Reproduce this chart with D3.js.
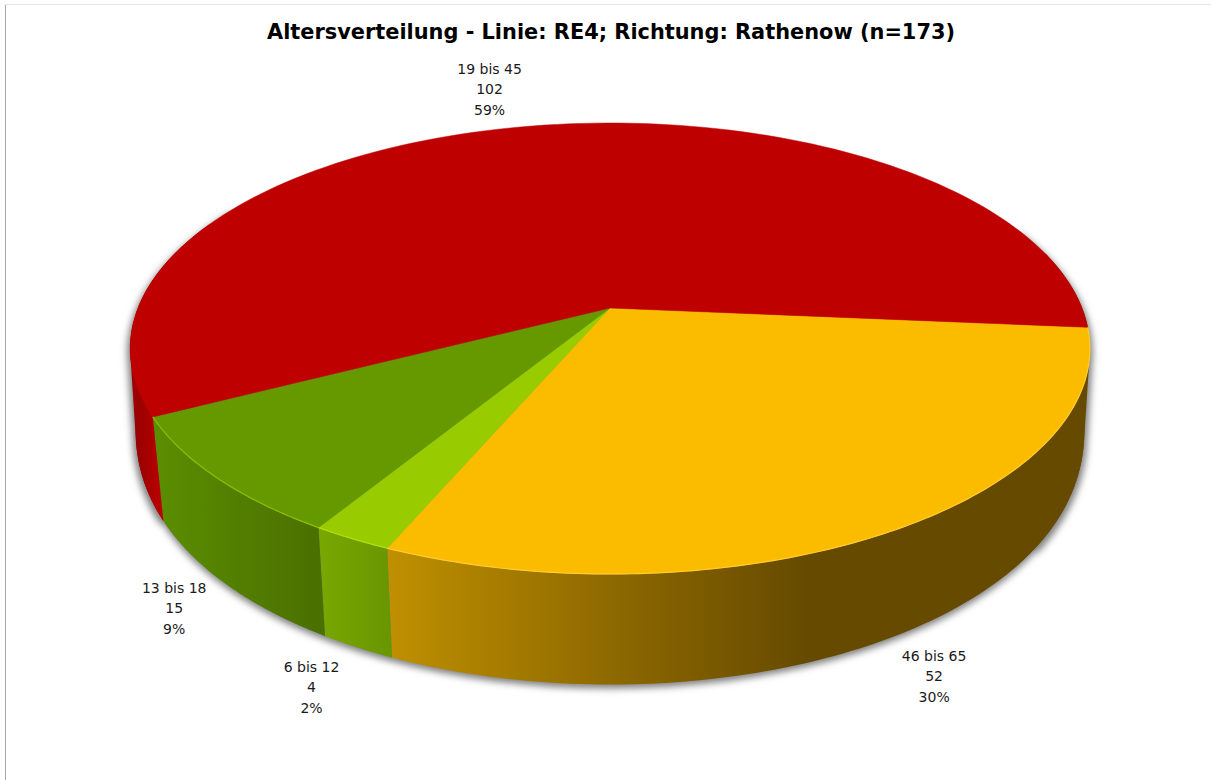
<!DOCTYPE html>
<html><head><meta charset="utf-8">
<script src="https://cdnjs.cloudflare.com/ajax/libs/d3/7.8.5/d3.min.js"></script>
<style>html,body{margin:0;padding:0;background:#fff;overflow:hidden}svg{display:block}</style>
</head><body><svg id="c" width="1211" height="780"></svg>
<script>
const categories = ["46 bis 65","6 bis 12","13 bis 18","19 bis 45"];
const counts = [52,4,15,102];
const percents = ["30%","2%","9%","59%"];
const titleText = "Altersverteilung - Linie: RE4; Richtung: Rathenow (n=173)";
const topColors = ["#FBBC00","#99CC00","#669900","#BE0000"];
const rimColors = ["#FFCC30","#B4E000","#88C000","#BE0000"];
const wallStops = [
  [["#C09000",0],["#8F6A00",0.52],["#664A00",1]],
  [["#78A800",0],["#6A9600",1]],
  [["#5B8E00",0],["#4A7000",1]],
  [["#9C0000",0],["#C00000",1]]
];

const svg = d3.select("#c");
const cx = 610;
const topPlane = {y0:308, k:218.2, p:0.1796, r:472, bulge:0};
const botPlane = {y0:409, k:224, p:0.187, r:458, bulge:15};
const project = (pl,a) => {
  const u=Math.cos(a), v=Math.sin(a), w=1-pl.p*v;
  const r=pl.r+pl.bulge*Math.pow(1-Math.abs(v),4);
  return [cx+r*u/w, pl.y0+pl.k*v/w];
};
const startA = 5.0*Math.PI/180;
const arcs = d3.pie().sort(null).startAngle(startA).endAngle(startA+2*Math.PI)(counts);
const line = d3.line();
const arcPts = (pl,a0,a1) => d3.range(0,121).map(i=>project(pl,a0+(a1-a0)*i/120));
const hullPath = (a0,a1) => line(d3.polygonHull(arcPts(topPlane,a0,a1).concat(arcPts(botPlane,a0,a1))))+"Z";

const defs = svg.append("defs");
defs.append("filter").attr("id","blur").attr("x","-10%").attr("y","-10%").attr("width","120%").attr("height","120%")
  .append("feGaussianBlur").attr("stdDeviation",3.5);
defs.append("filter").attr("id","soft").append("feGaussianBlur").attr("stdDeviation",0.5);

// frame
svg.append("line").attr("x1",5.5).attr("x2",5.5).attr("y1",4).attr("y2",780).attr("stroke","#a8a8a8");
svg.append("line").attr("x1",5).attr("x2",1211).attr("y1",4.5).attr("y2",4.5).attr("stroke","#e4e4e4");

// shadow
const redStart = arcs[3].startAngle;
svg.append("g").attr("filter","url(#blur)").attr("fill","#808080").attr("transform","translate(0,4)")
  .call(g=>{
    g.append("path").attr("d",line(arcPts(botPlane,0,2*Math.PI))+"Z");
    g.append("path").attr("d",hullPath(-0.4,0.6)).attr("transform","translate(3,0)");
    g.append("path").attr("d",hullPath(redStart,redStart+1)).attr("transform","translate(-3,0)");
  });

// walls: the red back wall goes first so the front walls cover its hull
[3,0,1,2].forEach(i=>{
  const d=arcs[i];
  const a0=i===0?d.startAngle-0.35:d.startAngle, a1=i===3?d.startAngle+0.9:d.endAngle;
  const vis=arcPts(topPlane,d.startAngle,i===3?d.startAngle+0.5:d.endAngle);
  const xs=vis.map(p=>p[0]);
  const x1=d3.min(xs), x2=i===0?d3.min(xs)+420:d3.max(xs);
  const g=defs.append("linearGradient").attr("id","w"+i).attr("gradientUnits","userSpaceOnUse")
    .attr("x1",i===3?140:x1).attr("x2",i===3?165:x2).attr("y1",0).attr("y2",0);
  wallStops[i].forEach(s=>g.append("stop").attr("offset",s[1]).attr("stop-color",s[0]));
  if(i===0) svg.append("path").attr("d",hullPath(a0,0.6)).attr("fill",`url(#w${i})`);
  if(i===3) svg.append("path").attr("d",hullPath(a0,a1)).attr("fill",`url(#w${i})`);
  svg.append("path").attr("d",line(arcPts(topPlane,a0,a1).concat(arcPts(botPlane,a0,a1).reverse()))+"Z").attr("fill",`url(#w${i})`);
});

// top face
arcs.forEach((d,i)=>{
  const pts=[[cx,topPlane.y0]].concat(arcPts(topPlane,d.startAngle,d.endAngle));
  svg.append("path").attr("d",line(pts)+"Z").attr("fill",topColors[i]).attr("stroke",topColors[i]).attr("stroke-width",0.5);
});
// rim highlight
arcs.forEach((d,i)=>{
  if(i===3) return;
  svg.append("path").attr("d",line(arcPts(topPlane,d.startAngle,d.endAngle))).attr("fill","none")
    .attr("stroke",rimColors[i]).attr("stroke-width",1.2).attr("filter","url(#soft)");
});

// title
svg.append("text").attr("x",611).attr("y",39).attr("text-anchor","middle")
  .attr("font-family","'DejaVu Sans'").attr("font-weight","bold").attr("font-size",22)
  .attr("textLength",688).attr("lengthAdjust","spacingAndGlyphs").attr("fill","#000").text(titleText);

// labels, anchored to the rim at each slice's middle angle
const labelOffsets = [[44,37],[-46,38],[-51,23],[-43,-38]];
arcs.forEach((d,i)=>{
  const m=(d.startAngle+d.endAngle)/2;
  const p=project(i===3?topPlane:botPlane,m);
  const x=p[0]+labelOffsets[i][0], y=p[1]+labelOffsets[i][1];
  const t=svg.append("text").attr("text-anchor","middle").attr("font-family","'DejaVu Sans'")
    .attr("font-size",14).attr("fill","#1a1a1a");
  [categories[i].replace(/ /g,"\u00a0"),String(counts[i]),percents[i]].forEach((s,j)=>{
    t.append("tspan").attr("x",x).attr("y",y-14+j*20.5).text(s);
  });
});
</script></body></html>
